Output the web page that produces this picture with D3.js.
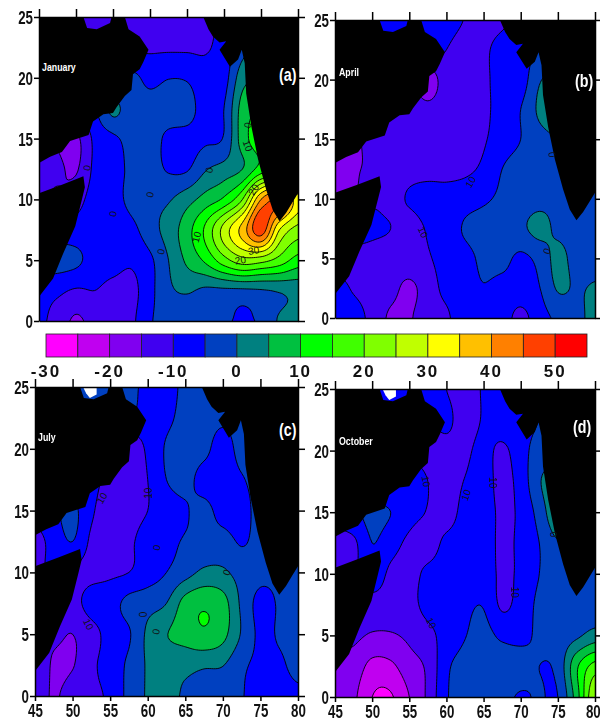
<!DOCTYPE html>
<html>
<head>
<meta charset="utf-8">
<script src="https://cdn.jsdelivr.net/npm/d3@7"></script>
<style>
  html, body { margin: 0; padding: 0; background: #fff; }
  svg { display: block; filter: blur(0.45px); }
  .ax text { font-family: "Liberation Sans", sans-serif; font-weight: bold; font-size: 18px; fill: #111; }
  .ax path, .ax line { stroke: #000; stroke-width: 1.5px; }
</style>
</head>
<body>
<div id="chartbox"></div>
<script>
var lons = [45, 47.5, 50, 52.5, 55, 57.5, 60, 62.5, 65, 67.5, 70, 72.5, 75, 77.5, 80];
var lats = [25, 22.5, 20, 17.5, 15, 12.5, 10, 7.5, 5, 2.5, 0];
var lonTicks = [45, 50, 55, 60, 65, 70, 75, 80];
var latTicks = [0, 5, 10, 15, 20, 25];

var levels = [-30, -25, -20, -15, -10, -5, 0, 5, 10, 15, 20, 25, 30, 35, 40, 45, 50];
var levelColors = ["#ff00ff", "#c000f0", "#8000f0", "#4000f0", "#0000ff", "#0040c0", "#008080", "#00c040", "#00ff00",
  "#40ff00", "#80ff00", "#c0ff00", "#ffff00", "#ffc000", "#ff8000", "#ff4000", "#ff0000"];
var barLabels = [-30, -20, -10, 0, 10, 20, 30, 40, 50];

// rows run from 25N down to 0, columns from 45E to 80E
var januaryValues = [
  [-12, -12, -12, -12, -12, -12, -12, -12, -12, -11, -9, -5, 0, 0, 0],
  [-12, -12, -12, -12, -12, -11, -10.7, -10.7, -10.7, -10.5, -8, -2, 2, 2, 2],
  [-10, -10, -10, -10, -8, -4, -6.5, -5.2, -5.5, -8, -7, 3, 5, 5, 5],
  [-10, -10, -9, -6, 1, -3, -3, -2.5, -3, -7, -5, 7, 10, 10, 10],
  [-13, -15, -16, -9, -6, -3.5, -3, -6, -6.5, -6, -4.5, 7.5, 13, 12, 12],
  [-12, -14, -15.5, -9, -7, -4, -3, -5.5, -5.5, -0.5, 2, 5, 12, 14, 12],
  [-14, -15, -12, -8, -7, -3.5, -1.5, -0.5, 3, 7, 11, 20, 40, 45, 32],
  [-8, -8, -8, -8, -8, -6.5, -2, 2, 8, 16, 27, 37, 48, 30, 23],
  [-3, -3, -4, -7, -8, -9.2, -6, 0, 6, 11, 18, 23, 22, 18, 13],
  [-8, -9, -10.5, -10, -11.5, -11.5, -6.5, -1, 0.5, -1, -1, -1, -0.5, 0.5, 1.5],
  [-9, -12, -15.8, -13, -12, -11, -5.5, -3.5, -3, -3.5, -4, -6, -4, 0.5, 1.5]
];
var aprilValues = [
  [-8, -8, -8, -8, -8, -8, -8, -10.2, -12, -11, -8, -8, -8, -8, -8],
  [-10, -10, -10, -10, -10, -8, -10, -12, -11, -8, -7, -5, -3, -3, -3],
  [-12, -12, -12, -12, -13, -18, -12, -12, -11, -8, -7.5, -0.5, 1, 1, 1],
  [-13, -13, -13, -13, -12, -13.5, -12, -12, -11, -8, -5, 0.8, 2, 2, 2],
  [-16, -16, -13, -12, -12, -12, -12, -12, -10.5, -7.5, -5, -1.5, 0, 0, 0],
  [-16, -15.5, -14, -12, -11.5, -11.5, -11.5, -11, -9, -5, -3, -2, -1, -1, -1],
  [-16, -15, -11, -11.5, -9.5, -8, -8, -7, -5.8, -4, -2.5, -1.5, -1, -1, -2],
  [-8, -8, -9, -10, -12, -9.5, -7.5, -4.5, -3, -2, -1, 1.5, -1, -2, -2],
  [-12, -12, -12, -12.5, -12, -10.5, -8, -6.5, -4, -3.5, -6, -3.5, 1.5, -2, -2],
  [-8, -10.5, -12, -13.5, -16, -12.5, -8.5, -6.5, -5.2, -6.5, -7, -5.2, 0.5, -0.5, 0.5],
  [-8, -8, -11.5, -15.8, -15.5, -12, -11, -5.5, -6, -7.5, -11.5, -7, -4, -1.5, 1.5]
];
var julyValues = [
  [-4, -4, -4, -4, -4, -4, -6, -6.5, -4, -3, -3, -3, -3, -3, -3],
  [-5, -5, -5, -5, -5, -5, -7, -6, -3.5, -3, -4, -3, -3, -3, -3],
  [-8, -8, -8, -8, -10, -14, -9, -4.5, -2.5, -3.5, -7.5, -3, -3, -3, -3],
  [-8, -8, -8, -8, -12, -12, -10, -5, -3.5, -7, -8, -5.5, -3, -3, -3],
  [-8, -6, -4, -9, -14, -12, -10, -7.5, -5.5, -3.5, -7, -7, -3, -3, -3],
  [-12, -8, -5, -11, -14.2, -11, -8, -6.5, -4.5, -3.5, -3, -5.5, -3, -1, -1],
  [-12, -9, -11, -11.5, -11, -10, -7.5, -5, -2, 1, 0.8, -2, -3.5, -3.5, -3],
  [-14, -14, -12, -8, -7, -3.5, -2, 0, 7, 9.2, 7, -1, -6.5, -4.5, -3],
  [-14, -14, -15, -12, -8, -5.5, 1, 4.8, 7, 9.2, 6.5, -0.5, -6, -4.5, -3],
  [-10, -15.8, -15.3, -11, -8, -4, 0.5, 1.5, 1.5, 0.7, 0.2, -4, -6, -5.8, -3.5],
  [-12, -15.5, -12.5, -11, -9, -3.5, 0.5, 2, -1, -3, -3.5, -4.7, -7.5, -7, -6]
];
var octoberValues = [
  [-8, -8, -8, -8, -8, -8, -10, -12, -9.5, -7, -7, -6, -6, -6, -6],
  [-10, -10, -10, -10, -10, -10, -9, -12, -9.5, -7, -7, -5, -3, -3, -3],
  [-12, -12, -12, -12, -12, -12, -11.5, -11, -8.5, -11, -7, -3, -3, -3, -3],
  [-9, -9, -9, -9, -6, -10, -12, -9.8, -8, -11.5, -8, -0.5, 3, 3, 3],
  [-8, -6, -4, -5, -8, -10.3, -12, -8.5, -8, -10.8, -9, -3, 4, 1, 1],
  [-12, -11, -5, -8, -11, -12, -9, -8, -8, -10.8, -9, -5, -0.5, -2.5, -3],
  [-12, -11, -7, -11, -11.5, -9, -8, -7.5, -7.5, -10.8, -9, -5, -3, -3, -3],
  [-12, -12, -12, -12, -11.5, -8.5, -7.5, -6, -5.3, -10.8, -8, -4, -3, -2.5, -3],
  [-14, -14, -15.5, -15.5, -14, -11.5, -8, -5.2, -3.5, -6, -6.5, -4, -3, -1, 2],
  [-16, -17, -21.5, -21, -17, -14, -6, -3.5, -2.5, -2, -2.5, -5, -3.5, 9, 17],
  [-16, -19, -25, -25.5, -20, -14, -5.5, -3.5, -3, -3.5, -5.5, -4.5, -5, 7.5, 25]
];

// coast outlines as [lon, lat]
var arabiaCoast = [[45, 25], [51, 25], [51.5, 24.1], [52.8, 24], [54.6, 24.5], [54.8, 25], [56.6, 25], [57.1, 24], [58.6, 23.4],
  [59.8, 22.3], [59.1, 21.3], [58.6, 20.7], [57.7, 20.3], [57.5, 19], [56.6, 18.5], [55.5, 17.6], [55, 17.1], [53.7, 17],
  [52.3, 16.4], [51.7, 15.3], [49.2, 14.8], [48.1, 13.9], [46.5, 13.5], [45, 13]];
var somaliaCoast = [[45, 10.5], [48.1, 11.2], [51, 11.9], [51.2, 11], [50.8, 10], [49.9, 7.8], [48.3, 5.6], [46.9, 3.5], [45, 2]];
var indiaCoast = [[67.2, 25], [67.9, 24], [68.5, 23.4], [69.4, 22.9], [70.3, 23], [69.4, 22.3], [70.8, 20.9], [71.9, 21.5], [72.4, 22.3],
  [72.8, 21.2], [73, 18.7], [73.7, 16], [74.6, 13.3], [75.7, 10.8], [76.6, 9.1], [77.5, 8.2], [78.4, 8.9], [79.3, 9.8], [80, 10.5], [80, 25]];
var gulfPatch = [[51.4, 25], [53.2, 25], [53.2, 24.4], [52.3, 24.1], [51.8, 24.5]];

// contour labels: lon, lat, text, rotation
var januaryLabels = [[73.2, 14.4, "10", 70], [73.2, 16.1, "0", -80], [51.5, 12.6, "0", -80], [68, 12.4, "0", -80], [55, 8.8, "0", -80],
  [60, 10.4, "0", -80], [61.5, 5.7, "0", -80], [66.3, 6.9, "10", -75], [74, 10.8, "20", -60], [74, 5.8, "30", -10], [72.2, 5, "20", -10]];
var aprilLabels = [[63.2, 11.4, "10", -60], [56.8, 7.2, "10", 65], [74.2, 13.7, "0", 80], [73.5, 5.6, "0", -70]];
var julyLabels = [[53.9, 16, "10", -60], [60.1, 16.4, "10", -90], [61.2, 12, "0", -80], [70.5, 10, "0", -70], [59.4, 6.6, "0", -90],
  [61.1, 5.2, "0", -80], [52.1, 5.8, "10", 65]];
var octoberLabels = [[57.2, 17.5, "10", 80], [62.6, 16.4, "10", -70], [66.2, 17.4, "10", 90], [69.2, 8.5, "10", 90], [57.9, 6, "10", 65], [74.4, 13.2, "0", 80]];

var panels = [
  { id: "a", month: "January", tag: "(a)", values: januaryValues, labels: januaryLabels, box: [39, 298, 17, 321], gulf: false, bottom: false, monthAt: [42, 71], tagAt: [279, 81] },
  { id: "b", month: "April", tag: "(b)", values: aprilValues, labels: aprilLabels, box: [335, 595, 20, 318], gulf: false, bottom: false, monthAt: [339, 76], tagAt: [575, 87] },
  { id: "c", month: "July", tag: "(c)", values: julyValues, labels: julyLabels, box: [35, 298, 387, 696], gulf: true, bottom: true, monthAt: [38, 441], tagAt: [279, 436] },
  { id: "d", month: "October", tag: "(d)", values: octoberValues, labels: octoberLabels, box: [335, 595, 389, 697], gulf: true, bottom: true, monthAt: [339, 445], tagAt: [573, 433] }
];

var svg = d3.select("#chartbox").append("svg").attr("width", 600).attr("height", 727);

// catmull-rom upsample so the contours come out round
function upsample(grid, k) {
  var rows = grid.length, cols = grid[0].length;
  var n = (cols - 1) * k + 1, m = (rows - 1) * k + 1, out = new Array(n * m);
  function cr(a, b, c, d, t) {
    return 0.5 * (2 * b + (c - a) * t + (2 * a - 5 * b + 4 * c - d) * t * t + (3 * b - a - 3 * c + d) * t * t * t);
  }
  function at(r, c) {
    return grid[Math.max(0, Math.min(rows - 1, r))][Math.max(0, Math.min(cols - 1, c))];
  }
  for (var j = 0; j < m; j++) {
    var r0 = Math.floor(j / k), tr = j / k - r0;
    for (var i = 0; i < n; i++) {
      var c0 = Math.floor(i / k), tc = i / k - c0;
      var col = [];
      for (var q = -1; q < 3; q++) {
        col.push(cr(at(r0 + q, c0 - 1), at(r0 + q, c0), at(r0 + q, c0 + 1), at(r0 + q, c0 + 2), tc));
      }
      out[j * n + i] = cr(col[0], col[1], col[2], col[3], tr);
    }
  }
  return { n: n, m: m, data: out };
}

// the tick font in the figure is tall and condensed
var squeeze = 0.74;

var K = 10;
panels.forEach(function (p) {
  var x = d3.scaleLinear().domain([45, 80]).range([p.box[0], p.box[1]]);
  var y = d3.scaleLinear().domain([0, 25]).range([p.box[3], p.box[2]]);
  var g = svg.append("g").attr("class", "panel-" + p.id);

  var clipId = "clip-" + p.id;
  svg.append("clipPath").attr("id", clipId).append("rect")
    .attr("x", p.box[0]).attr("y", p.box[2])
    .attr("width", p.box[1] - p.box[0]).attr("height", p.box[3] - p.box[2]);

  var plot = g.append("g").attr("clip-path", "url(#" + clipId + ")");
  plot.append("rect").attr("x", p.box[0]).attr("y", p.box[2])
    .attr("width", p.box[1] - p.box[0]).attr("height", p.box[3] - p.box[2])
    .attr("fill", levelColors[0]);

  var fine = upsample(p.values, K);
  var contours = d3.contours().size([fine.n, fine.m]).thresholds(levels)(fine.data);
  var path = d3.geoPath(d3.geoTransform({
    point: function (px, py) {
      var lon = 45 + (px - 0.5) / K * 2.5;
      var lat = 25 - (py - 0.5) / K * 2.5;
      this.stream.point(x(lon), y(lat));
    }
  }));
  plot.selectAll("path.band").data(contours).enter().append("path")
    .attr("class", "band")
    .attr("d", path)
    .attr("fill", function (d, i) { return levelColors[i]; })
    .attr("stroke", "#000")
    .attr("stroke-width", 0.9);

  var coast = d3.line().x(function (d) { return x(d[0]); }).y(function (d) { return y(d[1]); });
  [arabiaCoast, somaliaCoast, indiaCoast].forEach(function (c) {
    plot.append("path").attr("d", coast(c) + "Z").attr("fill", "#000");
  });
  if (p.gulf) plot.append("path").attr("d", coast(gulfPatch) + "Z").attr("fill", "#fff");

  plot.selectAll("text.clabel").data(p.labels).enter().append("text")
    .attr("class", "clabel")
    .attr("transform", function (d) { return "translate(" + x(d[0]) + "," + y(d[1]) + ") rotate(" + d[3] + ")"; })
    .attr("text-anchor", "middle").attr("dy", "0.35em")
    .style("font-family", "Liberation Sans, sans-serif").style("font-size", "10px").style("fill", "#111")
    .text(function (d) { return d[2]; });

  g.append("text").attr("transform", "translate(" + p.monthAt[0] + "," + p.monthAt[1] + ") scale(0.8,1)").text(p.month)
    .style("font-family", "Liberation Sans, sans-serif").style("font-weight", "bold")
    .style("font-size", "11px").style("fill", "#fff");
  g.append("text").attr("transform", "translate(" + p.tagAt[0] + "," + p.tagAt[1] + ") scale(0.75,1)").text(p.tag)
    .style("font-family", "Liberation Sans, sans-serif").style("font-weight", "bold")
    .style("font-size", "19px").style("fill", "#fff");

  var left = g.append("g").attr("class", "ax").attr("transform", "translate(" + p.box[0] + ",0)")
    .call(d3.axisLeft(y).tickValues(latTicks).tickSize(5).tickPadding(1).tickSizeOuter(0));
  left.selectAll("text").attr("dy", "0.36em").attr("x", -6 / squeeze).attr("transform", "scale(" + squeeze + ",1)");
  g.append("g").attr("class", "ax").attr("transform", "translate(" + p.box[1] + ",0)")
    .call(d3.axisRight(y).tickValues(latTicks).tickSize(7).tickSizeOuter(0).tickFormat(""));
  g.append("g").attr("class", "ax").attr("transform", "translate(0," + p.box[2] + ")")
    .call(d3.axisTop(x).tickValues(lonTicks).tickSize(8).tickSizeOuter(0).tickFormat(""));
  var bottom = g.append("g").attr("class", "ax").attr("transform", "translate(0," + p.box[3] + ")")
    .call(p.bottom ? d3.axisBottom(x).tickValues(lonTicks).tickSize(5).tickPadding(3).tickSizeOuter(0)
      : d3.axisBottom(x).tickValues([]).tickSizeOuter(0));
  bottom.selectAll("text").attr("transform", "scale(" + squeeze + ",1)")
    .attr("dx", function (d) { return p.id === "d" && d === 80 ? -3 : 0; });
});

// colour bar
var barX = d3.scaleLinear().domain([-30, 55]).range([46, 587]);
var bar = svg.append("g").attr("class", "colorbar");
bar.selectAll("rect").data(levels).enter().append("rect")
  .attr("x", function (d) { return barX(d); })
  .attr("y", 334)
  .attr("width", function (d) { return barX(d + 5) - barX(d); })
  .attr("height", 23)
  .attr("fill", function (d, i) { return levelColors[i]; })
  .attr("stroke", "#222")
  .attr("stroke-width", 0.8);
bar.selectAll("text").data(barLabels).enter().append("text")
  .attr("x", function (d) { return barX(d); })
  .attr("y", 377)
  .attr("text-anchor", "middle")
  .style("font-family", "Liberation Sans, sans-serif")
  .style("font-weight", "bold")
  .style("font-size", "17px")
  .style("letter-spacing", "2px")
  .style("fill", "#111")
  .text(function (d) { return d; });
</script>
</body>
</html>
